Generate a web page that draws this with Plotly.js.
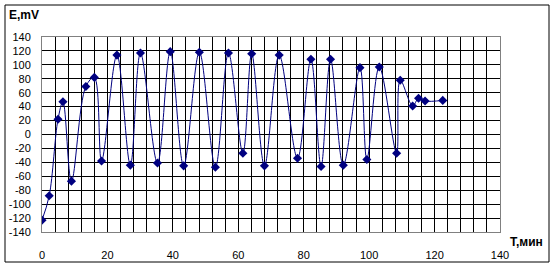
<!DOCTYPE html>
<html>
<head>
<meta charset="utf-8">
<script src="https://cdn.plot.ly/plotly-3.0.1.min.js"></script>
<style>
html,body{margin:0;padding:0;background:#fff;}
#chart{width:555px;height:266px;}
</style>
</head>
<body>
<div id="chart"></div>
<script>
// Time, minutes
var tMin = [0, 2.2, 4.9, 6.4, 9.0, 13.4, 16.0, 18.2, 22.9, 27.0, 30.1, 35.3, 39.2, 43.3, 48.1, 53.0, 57.0, 61.4, 64.1, 68.0, 72.5, 78.1, 82.2, 85.3, 88.2, 92.1, 97.2, 99.3, 103.1, 108.4, 109.5, 113.3, 115.1, 117.1, 122.5];
// Potential, mV
var eMv = [-123, -88, 22, 47, -67, 69, 82, -38, 114, -44, 117, -41, 119, -45, 118, -47, 117, -27, 116, -45, 114, -34, 108, -46, 108, -44, 96, -36, 97, -27, 78, 41, 52, 48, 49];

var yTickVals = [-140, -120, -100, -80, -60, -40, -20, 0, 20, 40, 60, 80, 100, 120, 140];
var yTickText = ["-140", "-120", "-100", "-80", "-60", "-40", "-20", "0", "20", "40", "60", "80", "100", "120", "140"];
var xTickVals = [0, 20, 40, 60, 80, 100, 120, 140];

var trace = {
  x: tMin, y: eMv, type: 'scatter', mode: 'lines+markers',
  line: {color: '#000080', width: 1, shape: 'spline', smoothing: 1},
  marker: {symbol: 'diamond', size: 7, color: '#000080'},
  hoverinfo: 'skip'
};

var font = {family: '"Liberation Sans", Arial, sans-serif', size: 11, color: '#000'};

var layout = {
  width: 555, height: 266,
  margin: {l: 42, r: 55, t: 37, b: 34, pad: 0},
  paper_bgcolor: '#fff', plot_bgcolor: '#fff',
  showlegend: false,
  font: font,
  xaxis: {
    range: [0, 140], tickvals: xTickVals, ticktext: xTickVals.map(String),
    showgrid: true, gridcolor: '#000', gridwidth: 1,
    minor: {dtick: 4, tick0: 0, showgrid: true, gridcolor: '#000', gridwidth: 1, ticks: ''},
    zeroline: false, showline: true, linecolor: '#808080', linewidth: 1, mirror: true,
    ticks: 'outside', ticklen: 13, tickcolor: 'rgba(0,0,0,0)',
    tickfont: font, fixedrange: true
  },
  yaxis: {
    range: [-140, 140], tickvals: yTickVals, ticktext: yTickText,
    showgrid: true, gridcolor: '#000', gridwidth: 1,
    zeroline: true, zerolinecolor: '#000', zerolinewidth: 1,
    showline: true, linecolor: '#808080', linewidth: 1, mirror: true,
    ticks: 'outside', ticklen: 8, tickcolor: 'rgba(0,0,0,0)',
    tickfont: font, fixedrange: true
  },
  shapes: [{
    type: 'rect', xref: 'paper', yref: 'paper',
    x0: (5 - 42) / 458, x1: (549 - 42) / 458,
    y0: -(262 - 232) / 195, y1: 1 + (37 - 5) / 195,
    line: {color: '#000', width: 1}, fillcolor: 'rgba(0,0,0,0)'
  }],
  annotations: [
    {text: '<b>E,mV</b>', xref: 'paper', yref: 'paper', x: (7 - 42) / 458, y: 1 + (37 - 15) / 195,
     xanchor: 'left', yanchor: 'middle', showarrow: false,
     font: {family: '"Liberation Sans", Arial, sans-serif', size: 12, color: '#000'}},
    {text: '<b>T,мин</b>', xref: 'paper', yref: 'paper', x: (508 - 42) / 458, y: -(242 - 232) / 195,
     xanchor: 'left', yanchor: 'middle', showarrow: false,
     font: {family: '"Liberation Sans", Arial, sans-serif', size: 12, color: '#000'}}
  ]
};

Plotly.newPlot('chart', [trace], layout, {staticPlot: true, displayModeBar: false});
</script>
</body>
</html>
